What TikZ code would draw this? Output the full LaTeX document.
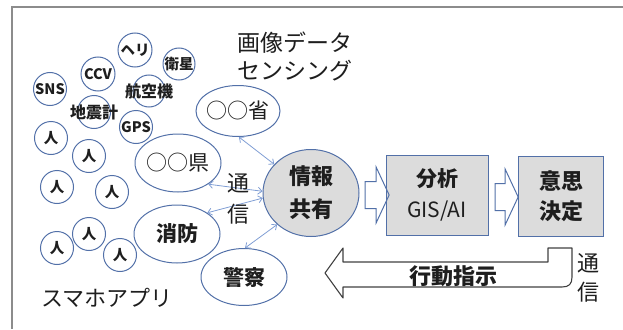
\documentclass[tikz,border=0pt]{standalone}
\usepackage{fontspec}
\setmainfont{Noto Sans CJK JP}
\usetikzlibrary{shapes.geometric,shapes.arrows,arrows.meta}
\definecolor{eblue}{RGB}{82,112,168}
\definecolor{cblue}{RGB}{128,158,212}
\definecolor{boxgray}{RGB}{220,220,220}
\definecolor{framegray}{RGB}{140,140,140}
\definecolor{txt}{RGB}{30,30,30}
\begin{document}
\begin{tikzpicture}[x=1pt,y=-1pt,
  smallc/.style={circle,draw=eblue,line width=1pt,minimum size=33pt,inner sep=0pt},
  lab/.style={font=\fontsize{14.5}{15}\selectfont\bfseries,text=txt},
  ell/.style={ellipse,draw=eblue,line width=1pt,inner sep=0pt,minimum width=86pt,minimum height=58pt},
  ellt/.style={font=\fontsize{21}{21}\selectfont,text=txt},
  ellb/.style={font=\fontsize{21}{21}\selectfont\bfseries,text=txt},
  box/.style={rectangle,draw=eblue,line width=1pt,fill=boxgray,inner sep=0pt,align=center,text=txt},
  conn/.style={cblue,line width=0.8pt,{Straight Barb[length=4pt,width=7pt]}-{Straight Barb[length=4pt,width=7pt]}},
  barrow/.style={single arrow,draw=eblue,line width=1pt,inner xsep=0pt,inner ysep=13pt,single arrow head extend=14.5pt,single arrow tip angle=130,minimum height=24pt},
  big/.style={txt!85,line width=1.1pt,line join=round},
  plain/.style={text=txt,align=center}
]
\useasboundingbox (0,0) rectangle (623,329);
% frame
\draw[framegray,line width=2pt] (623,7) -- (12,7) -- (12,329);

% small circles
\node[smallc,label={[lab]center:SNS}] (sns) at (50,89) {};
\node[smallc,minimum size=34pt,label={[lab]center:CCV}] (ccv) at (98,74) {};
\node[smallc,minimum size=34pt,label={[lab]center:ヘリ}] (heli) at (135,50) {};
\node[smallc,minimum size=32pt,label={[lab]center:衛星}] (sat) at (179,64) {};
\node[smallc,minimum size=32pt,label={[lab,font=\fontsize{16}{16}\selectfont\bfseries]center:航空機}] (air) at (149,91) {};
\node[smallc,label={[lab,font=\fontsize{16}{16}\selectfont\bfseries]center:地震計}] (seis) at (94,112) {};
\node[smallc,label={[lab]center:GPS}] (gps) at (136,127) {};
\node[smallc,label={[lab]center:人}] (p1) at (51,138) {};
\node[smallc,label={[lab]center:人}] (p2) at (89,156) {};
\node[smallc,label={[lab]center:人}] (p3) at (57,187) {};
\node[smallc,label={[lab]center:人}] (p4) at (112,192) {};
\node[smallc,label={[lab]center:人}] (p5) at (89,234) {};
\node[smallc,label={[lab]center:人}] (p6) at (57,248) {};
\node[smallc,label={[lab]center:人}] (p7) at (120,255) {};

% ellipses
\node[ell,minimum width=84pt,minimum height=51pt,label={[ellt]center:○○省}] (sho) at (238,111) {};
\node[ell,label={[ellt]center:○○県}] (ken) at (178,163) {};
\node[ell,label={[ellb]center:消防}] (fire) at (177,234) {};
\node[ell,minimum height=57pt,label={[ellb]center:警察}] (pol) at (244,277) {};
\node[ell,fill=boxgray,minimum width=96pt,minimum height=87pt,align=center,
      font=\fontsize{22}{33}\selectfont\bfseries,text=txt] (share) at (311,193) {情報\\共有};

% boxes
\node[box,minimum width=102pt,minimum height=80pt,font=\fontsize{21}{31}\selectfont] (ana) at (437,195)
  {\textbf{分析}\\GIS/AI};
\node[box,minimum width=85pt,minimum height=80pt,font=\fontsize{22}{30}\selectfont\bfseries] (dec) at (561,196)
  {意思\\決定};

% block arrows
\node[barrow] (a1) at (374,195) {};
\node[barrow,minimum height=23pt] (a2) at (503.5,197) {};

% connectors
\draw[conn] (sho.-88) -- (share.142);
\draw[conn] (ken.-35) -- (share.178);
\draw[conn] (fire.35) -- (share.186);
\draw[conn] (pol.88) -- (share.223);

% texts
\node[plain,font=\fontsize{23}{28}\selectfont] (title) at (295,56) {画像データ\\センシング};
\node[plain,font=\fontsize{22}{22}\selectfont] (app) at (107,298) {スマホアプリ};
\node[plain,font=\fontsize{22}{31}\selectfont] (comm1) at (238,199) {通\\信};
\node[plain,font=\fontsize{22}{29}\selectfont] (comm2) at (588,278) {通\\信};

% big return arrow
\draw[big] (325,273) -- (343,248) -- (343,262) -- (548,262) -- (548,248) -- (572,248) -- (572,277)
  .. controls (572,284) and (569,287) .. (562,287) -- (343,287) -- (343,298) -- cycle;
\node[plain,font=\fontsize{22}{22}\selectfont\bfseries] (order) at (453,276) {行動指示};
\end{tikzpicture}
\end{document}
